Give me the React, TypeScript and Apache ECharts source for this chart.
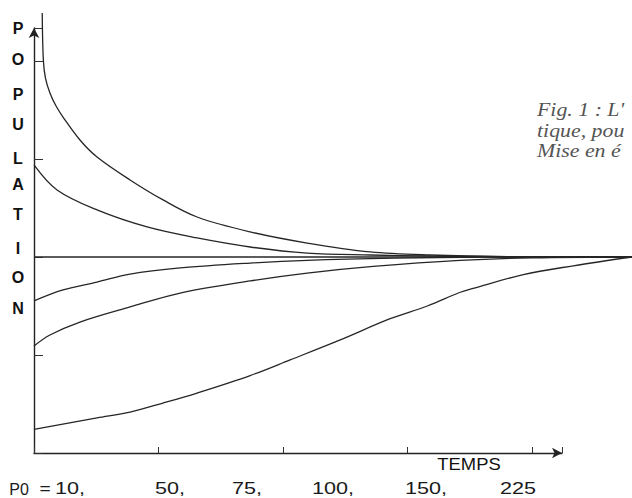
import React, { useEffect, useRef } from "react";
import * as echarts from "echarts";

// Time (arbitrary units, ticks every 1) and population
const T225 = [0.066, 0.075, 0.092, 0.128, 0.177, 0.233, 0.369, 0.506, 0.771, 1.036, 1.309, 1.735, 2.193, 2.699, 3.18, 3.8, 4.8];
const P225 = [224.5, 200.5, 191.3, 183.7, 177, 171.4, 159.7, 151, 139.3, 129.1, 120.4, 112.8, 107.1, 102.6, 101, 100.2, 100];

const T150 = [0, 0.185, 0.506, 0.908, 1.309, 1.735, 2.193, 2.7, 3.18, 3.8, 4.8];
const P150 = [147, 134.2, 124, 115.3, 109.7, 105.1, 102, 101, 100.5, 100.1, 100];

const T100 = [0, 4.8];
const P100 = [100, 100];

const T75 = [0, 0.233, 0.506, 0.771, 1.173, 1.735, 2.193, 2.9, 3.6, 4.8];
const P75 = [77.6, 83.2, 87.2, 91.3, 94.4, 96.9, 98.3, 99.4, 99.9, 100];

const T50 = [0, 0.128, 0.369, 0.771, 1.173, 1.735, 2.193, 2.723, 3.42, 4.0, 4.8];
const P50 = [54.6, 60.2, 66.8, 74.5, 81.6, 87.8, 91.8, 95.2, 98.3, 99.6, 100];

const T10 = [0, 0.506, 0.771, 1.036, 1.309, 1.735, 2.056, 2.458, 2.859, 3.157, 3.422, 3.526, 3.928, 4.329, 4.8];
const P10 = [12, 17.9, 20.9, 25.5, 30.6, 39.5, 47.5, 57.7, 68.5, 75, 82, 84, 91, 95.5, 100];

// Axis extents: drawn axes (arrow tips) and the full plotting range
const X_AXIS_END = 4.24;
const Y_AXIS_END = 216.8;
const X_RANGE_END = 4.8;
const Y_RANGE_END = 231.1;

const Y_LETTERS = ["P", "O", "P", "U", "L", "A", "T", "I", "O", "N"];
const Y_LETTER_POS = [28, 59, 94, 124, 158, 184, 214, 248, 277, 308];

const P0_LABELS = ["P0", "=", "10,", "50,", "75,", "100,", "150,", "225"];
const P0_LABEL_X = [19, 45, 70, 170, 247, 333, 426, 518];
const P0_LABEL_SCALE = [1.0, 1.2, 1.35, 1.35, 1.35, 1.35, 1.35, 1.35];

const CAPTION = ["Fig. 1 : L'", "tique, pou", "Mise en é"];

const zip = (t: number[], p: number[]) => t.map((x, i) => [x, p[i]]);

export default function App() {
  const ref = useRef<HTMLDivElement>(null);
  useEffect(() => {
    if (!ref.current) return;
    const chart = echarts.init(ref.current, null, { renderer: "svg" });
    const lineColor = "#262626";
    const axisColor = "#222";
    const mk = (name: string, t: number[], p: number[]) => ({
      name,
      type: "line",
      xAxisIndex: 1,
      yAxisIndex: 1,
      data: zip(t, p),
      smooth: 0.35,
      showSymbol: false,
      symbol: "none",
      clip: false,
      silent: true,
      lineStyle: { color: lineColor, width: 1.3 },
    });
    const graphic: any[] = [];
    Y_LETTERS.forEach((l, i) => {
      graphic.push({
        type: "text",
        x: 18,
        y: Y_LETTER_POS[i],
        style: {
          text: l,
          font: "bold 16px 'Liberation Sans', Arial, sans-serif",
          fill: "#111",
          align: "center",
          verticalAlign: "middle",
        },
      });
    });
    P0_LABELS.forEach((l, i) => {
      graphic.push({
        type: "text",
        x: P0_LABEL_X[i],
        y: 489,
        scaleX: P0_LABEL_SCALE[i],
        style: {
          text: l,
          font: "16px 'Liberation Sans', Arial, sans-serif",
          fill: "#1a1a1a",
          align: "center",
          verticalAlign: "middle",
        },
      });
    });
    graphic.push({
      type: "text",
      x: 469,
      y: 464,
      scaleX: 1.15,
      style: {
        text: "TEMPS",
        font: "16px 'Liberation Sans', Arial, sans-serif",
        fill: "#111",
        align: "center",
        verticalAlign: "middle",
      },
    });
    CAPTION.forEach((l, i) => {
      graphic.push({
        type: "text",
        x: 537,
        y: 110 + i * 20.5,
        scaleX: 1.15,
        style: {
          text: l,
          font: "italic 19px 'Liberation Serif', 'Times New Roman', serif",
          fill: "#555",
          align: "left",
          verticalAlign: "middle",
        },
      });
    });
    const hidden = {
      axisLine: { show: false },
      axisTick: { show: false },
      axisLabel: { show: false },
      splitLine: { show: false },
    };
    chart.setOption({
      animation: false,
      backgroundColor: "#fff",
      grid: [
        // grid 0: the drawn axes, ending at the arrow tips
        { left: 34, right: 70, top: 28, bottom: 45 },
        // grid 1: the full plotting range with the same scale
        { left: 34, right: 0, top: 0, bottom: 45 },
      ],
      xAxis: [
        {
          type: "value",
          gridIndex: 0,
          min: 0,
          max: X_AXIS_END,
          interval: 1,
          axisLine: {
            show: true,
            onZero: false,
            symbol: ["none", "arrow"],
            symbolSize: [8, 10],
            lineStyle: { color: axisColor, width: 1.4 },
          },
          axisTick: { show: true, inside: true, length: 6, lineStyle: { color: "#333", width: 1 } },
          axisLabel: { show: false },
          splitLine: { show: false },
        },
        { type: "value", gridIndex: 1, min: 0, max: X_RANGE_END, ...hidden },
      ],
      yAxis: [
        {
          type: "value",
          gridIndex: 0,
          min: 0,
          max: Y_AXIS_END,
          interval: 50,
          axisLine: {
            show: true,
            onZero: false,
            symbol: ["none", "arrow"],
            symbolSize: [8, 10],
            lineStyle: { color: axisColor, width: 1.4 },
          },
          axisTick: { show: true, inside: true, length: 9, lineStyle: { color: "#333", width: 1 } },
          axisLabel: { show: false },
          splitLine: { show: false },
        },
        { type: "value", gridIndex: 1, min: 0, max: Y_RANGE_END, ...hidden },
      ],
      series: [
        { name: "axes", type: "line", xAxisIndex: 0, yAxisIndex: 0, data: [], silent: true },
        mk("P0=225", T225, P225),
        mk("P0=150", T150, P150),
        mk("P0=100", T100, P100),
        mk("P0=75", T75, P75),
        mk("P0=50", T50, P50),
        mk("P0=10", T10, P10),
      ],
      graphic,
    });
    return () => chart.dispose();
  }, []);
  return (
    <div
      ref={ref}
      style={{ position: "absolute", left: 0, top: 0, width: 632, height: 498, background: "#fff" }}
    />
  );
}
